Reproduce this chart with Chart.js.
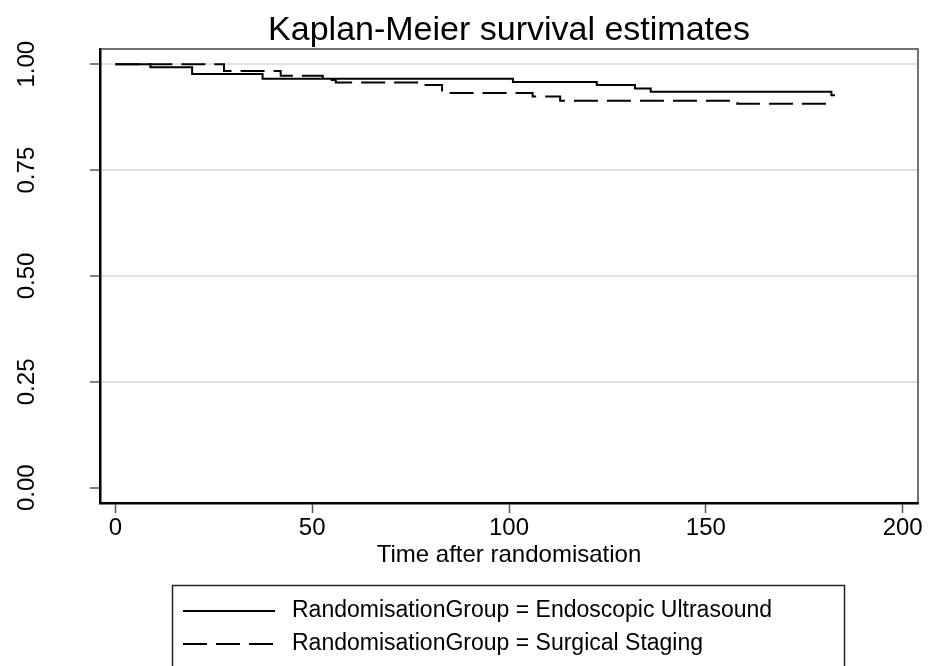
<!DOCTYPE html>
<html>
<head>
<meta charset="utf-8">
<script src="https://cdn.jsdelivr.net/npm/chart.js@4.4.0/dist/chart.umd.min.js"></script>
<style>
  html, body { margin: 0; padding: 0; background: #fff; }
  #wrap { width: 929px; height: 666px; }
</style>
</head>
<body>
<div id="wrap"><canvas id="km"></canvas></div>
<script>
const FONT = "'Liberation Sans', Arial, sans-serif";

// survival steps (time, estimate)
const eusTime = [0, 8.9, 19.5, 37.4, 101, 122.3, 132, 136, 181.9, 182.8];
const eusSurv = [1, 0.993, 0.977, 0.966, 0.958, 0.951, 0.943, 0.935, 0.927, 0.927];
const ssTime = [0, 27.6, 42, 52.7, 56, 77, 83, 106, 113, 158, 182.8];
const ssSurv = [1, 0.984, 0.973, 0.963, 0.957, 0.951, 0.932, 0.924, 0.914, 0.907, 0.907];

const groupLabels = ['RandomisationGroup = Endoscopic Ultrasound', 'RandomisationGroup = Surgical Staging'];
const xTicks = [0, 50, 100, 150, 200];
const yTicks = [0, 0.25, 0.5, 0.75, 1];

const toPoints = (t, s) => t.map((v, i) => ({ x: v, y: s[i] }));

// legend box under the plot, stata style
const boxLegend = {
  id: 'boxLegend',
  afterDraw(chart) {
    const c = chart.ctx;
    c.save();
    c.strokeStyle = '#222';
    c.lineWidth = 1.5;
    c.strokeRect(172.5, 585.5, 672, 120);
    c.font = '23px ' + FONT;
    c.fillStyle = '#000';
    c.textBaseline = 'middle';
    chart.data.datasets.forEach((ds, i) => {
      const y = 611 + i * 33;
      c.beginPath();
      c.setLineDash(ds.borderDash || []);
      c.lineWidth = 2;
      c.strokeStyle = ds.borderColor;
      c.moveTo(183, y);
      c.lineTo(275, y);
      c.stroke();
      c.setLineDash([]);
      c.fillText(ds.label, 292, y);
    });
    c.restore();
  }
};

// thin frame on top / right of plot
const frame = {
  id: 'frame',
  afterDatasetsDraw(chart) {
    const a = chart.chartArea;
    const c = chart.ctx;
    c.save();
    c.strokeStyle = '#444';
    c.lineWidth = 1.5;
    c.beginPath();
    c.moveTo(a.left, a.top);
    c.lineTo(a.right, a.top);
    c.lineTo(a.right, a.bottom);
    c.stroke();
    c.restore();
  }
};

new Chart(document.getElementById('km'), {
  type: 'line',
  data: {
    datasets: [{
      label: groupLabels[0],
      data: toPoints(eusTime, eusSurv),
      borderColor: '#000',
      borderWidth: 2,
      pointRadius: 0,
      stepped: 'before',
      fill: false
    }, {
      label: groupLabels[1],
      data: toPoints(ssTime, ssSurv),
      borderColor: '#000',
      borderWidth: 2,
      borderDash: [24, 9],
      pointRadius: 0,
      stepped: 'before',
      fill: false
    }]
  },
  options: {
    responsive: true,
    maintainAspectRatio: false,
    animation: false,
    layout: { padding: { top: 0, right: 11, bottom: 83, left: 0 } },
    plugins: {
      legend: { display: false },
      tooltip: { enabled: false },
      title: {
        display: true,
        text: 'Kaplan-Meier survival estimates',
        fullSize: false,
        color: '#000',
        font: { family: FONT, size: 34, weight: 'normal', lineHeight: 1 },
        padding: { top: 14, bottom: 1 }
      }
    },
    scales: {
      x: {
        type: 'linear',
        min: -3.9,
        max: 203.9,
        afterBuildTicks: s => { s.ticks = xTicks.map(v => ({ value: v })); },
        afterFit: s => { s.height = 80; s.paddingLeft = 0; s.paddingRight = 0; },
        ticks: {
          color: '#000',
          font: { family: FONT, size: 24 },
          padding: 1,
          maxRotation: 0,
          autoSkip: false
        },
        grid: { drawOnChartArea: false, tickLength: 10, tickColor: '#555', tickWidth: 1.5 },
        border: { color: '#000', width: 2.5 },
        title: {
          display: true,
          text: 'Time after randomisation',
          color: '#000',
          font: { family: FONT, size: 24 },
          padding: { top: 0, bottom: 13 }
        }
      },
      y: {
        min: -0.036,
        max: 1.036,
        afterBuildTicks: s => { s.ticks = yTicks.map(v => ({ value: v })); },
        afterFit: s => { s.width = 100; s.paddingTop = 0; s.paddingBottom = 0; },
        ticks: {
          color: '#000',
          font: { family: FONT, size: 24 },
          callback: v => v.toFixed(2),
          minRotation: 90,
          maxRotation: 90,
          crossAlign: 'center',
          padding: 39
        },
        grid: {
          color: c => (c.tick && c.tick.value === 0 ? 'rgba(0,0,0,0)' : '#e2e2e2'),
          lineWidth: 2,
          tickLength: 10,
          tickColor: '#555',
          tickWidth: 1.5
        },
        border: { color: '#000', width: 2.5 }
      }
    }
  },
  plugins: [boxLegend, frame]
});
</script>
</body>
</html>
